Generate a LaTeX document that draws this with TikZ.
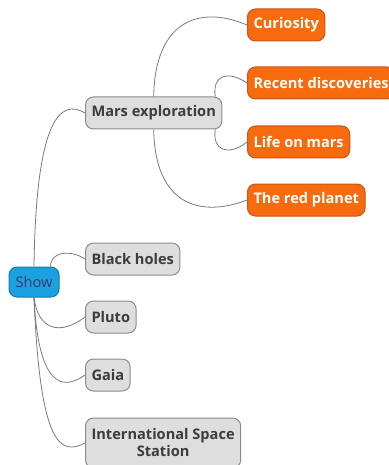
\documentclass[tikz,border=0pt]{standalone}
\usepackage{fontspec}
\setmainfont{Open Sans}
\definecolor{topicfill}{HTML}{DEDEDE}
\definecolor{topicline}{HTML}{8C8C8C}
\definecolor{topictext}{HTML}{3C3C3C}
\definecolor{subfill}{HTML}{F76A0E}
\definecolor{subline}{HTML}{C9561A}
\definecolor{rootfill}{HTML}{1BA1E2}
\definecolor{rootline}{HTML}{1779AA}
\definecolor{roottext}{HTML}{3B3B66}
\definecolor{linkgray}{HTML}{7A7A7A}
\begin{document}
\begin{tikzpicture}[x=1pt,y=-1pt,
  topic/.style={draw=topicline, fill=topicfill, line width=1pt, rounded corners=8pt,
    minimum height=32pt, inner xsep=6pt, text=topictext,
    font=\bfseries\fontsize{14.6}{17}\selectfont},
  subtopic/.style={topic, draw=subline, fill=subfill, text=white},
  root/.style={topic, draw=rootline, fill=rootfill, text=roottext, minimum height=30pt,
    minimum width=50pt, font=\fontsize{14.6}{17}\selectfont},
  link/.style={draw=linkgray, line width=0.8pt}]
\fill[white] (0,0) rectangle (388,465);
\useasboundingbox (0,0) rectangle (388,465);

% main topics
\node[root] (show) at (34,282) {Show};
\node[topic, anchor=west] (mars) at (85,113) {Mars exploration};
\node[topic, anchor=west] (black) at (85,259) {Black holes};
\node[topic, anchor=west] (pluto) at (85,317) {Pluto};
\node[topic, anchor=west] (gaia) at (85,375) {Gaia};
\node[topic, anchor=west, align=center, minimum height=50pt] (iss) at (85,443)
  {International Space\\Station};

% subtopics of mars
\node[subtopic, anchor=west] (curiosity) at (247,25) {Curiosity};
\node[subtopic, anchor=west] (recent) at (247,83) {Recent discoveries};
\node[subtopic, anchor=west] (life) at (247,142) {Life on mars};
\node[subtopic, anchor=west] (red) at (247,200) {The red planet};

% links
\draw[link] (show.north) .. controls (36,120) and (60,98) .. (mars.west);
\draw[link] (show.43) .. controls (50,252) and (70,249) .. (black.west);
\draw[link] (show.south) .. controls (38,330) and (60,336) .. (pluto.west);
\draw[link] (show.south) .. controls (38,382) and (60,393) .. (gaia.west);
\draw[link] (show.south) .. controls (40,445) and (60,456) .. (iss.west);

\draw[link] (mars.north) .. controls (155,20) and (200,5) .. (curiosity.west);
\draw[link] (mars.15) .. controls (212,75) and (228,70) .. (recent.west);
\draw[link] (mars.-15) .. controls (212,150) and (228,157) .. (life.west);
\draw[link] (mars.south) .. controls (155,205) and (200,218) .. (red.west);
\end{tikzpicture}
\end{document}
